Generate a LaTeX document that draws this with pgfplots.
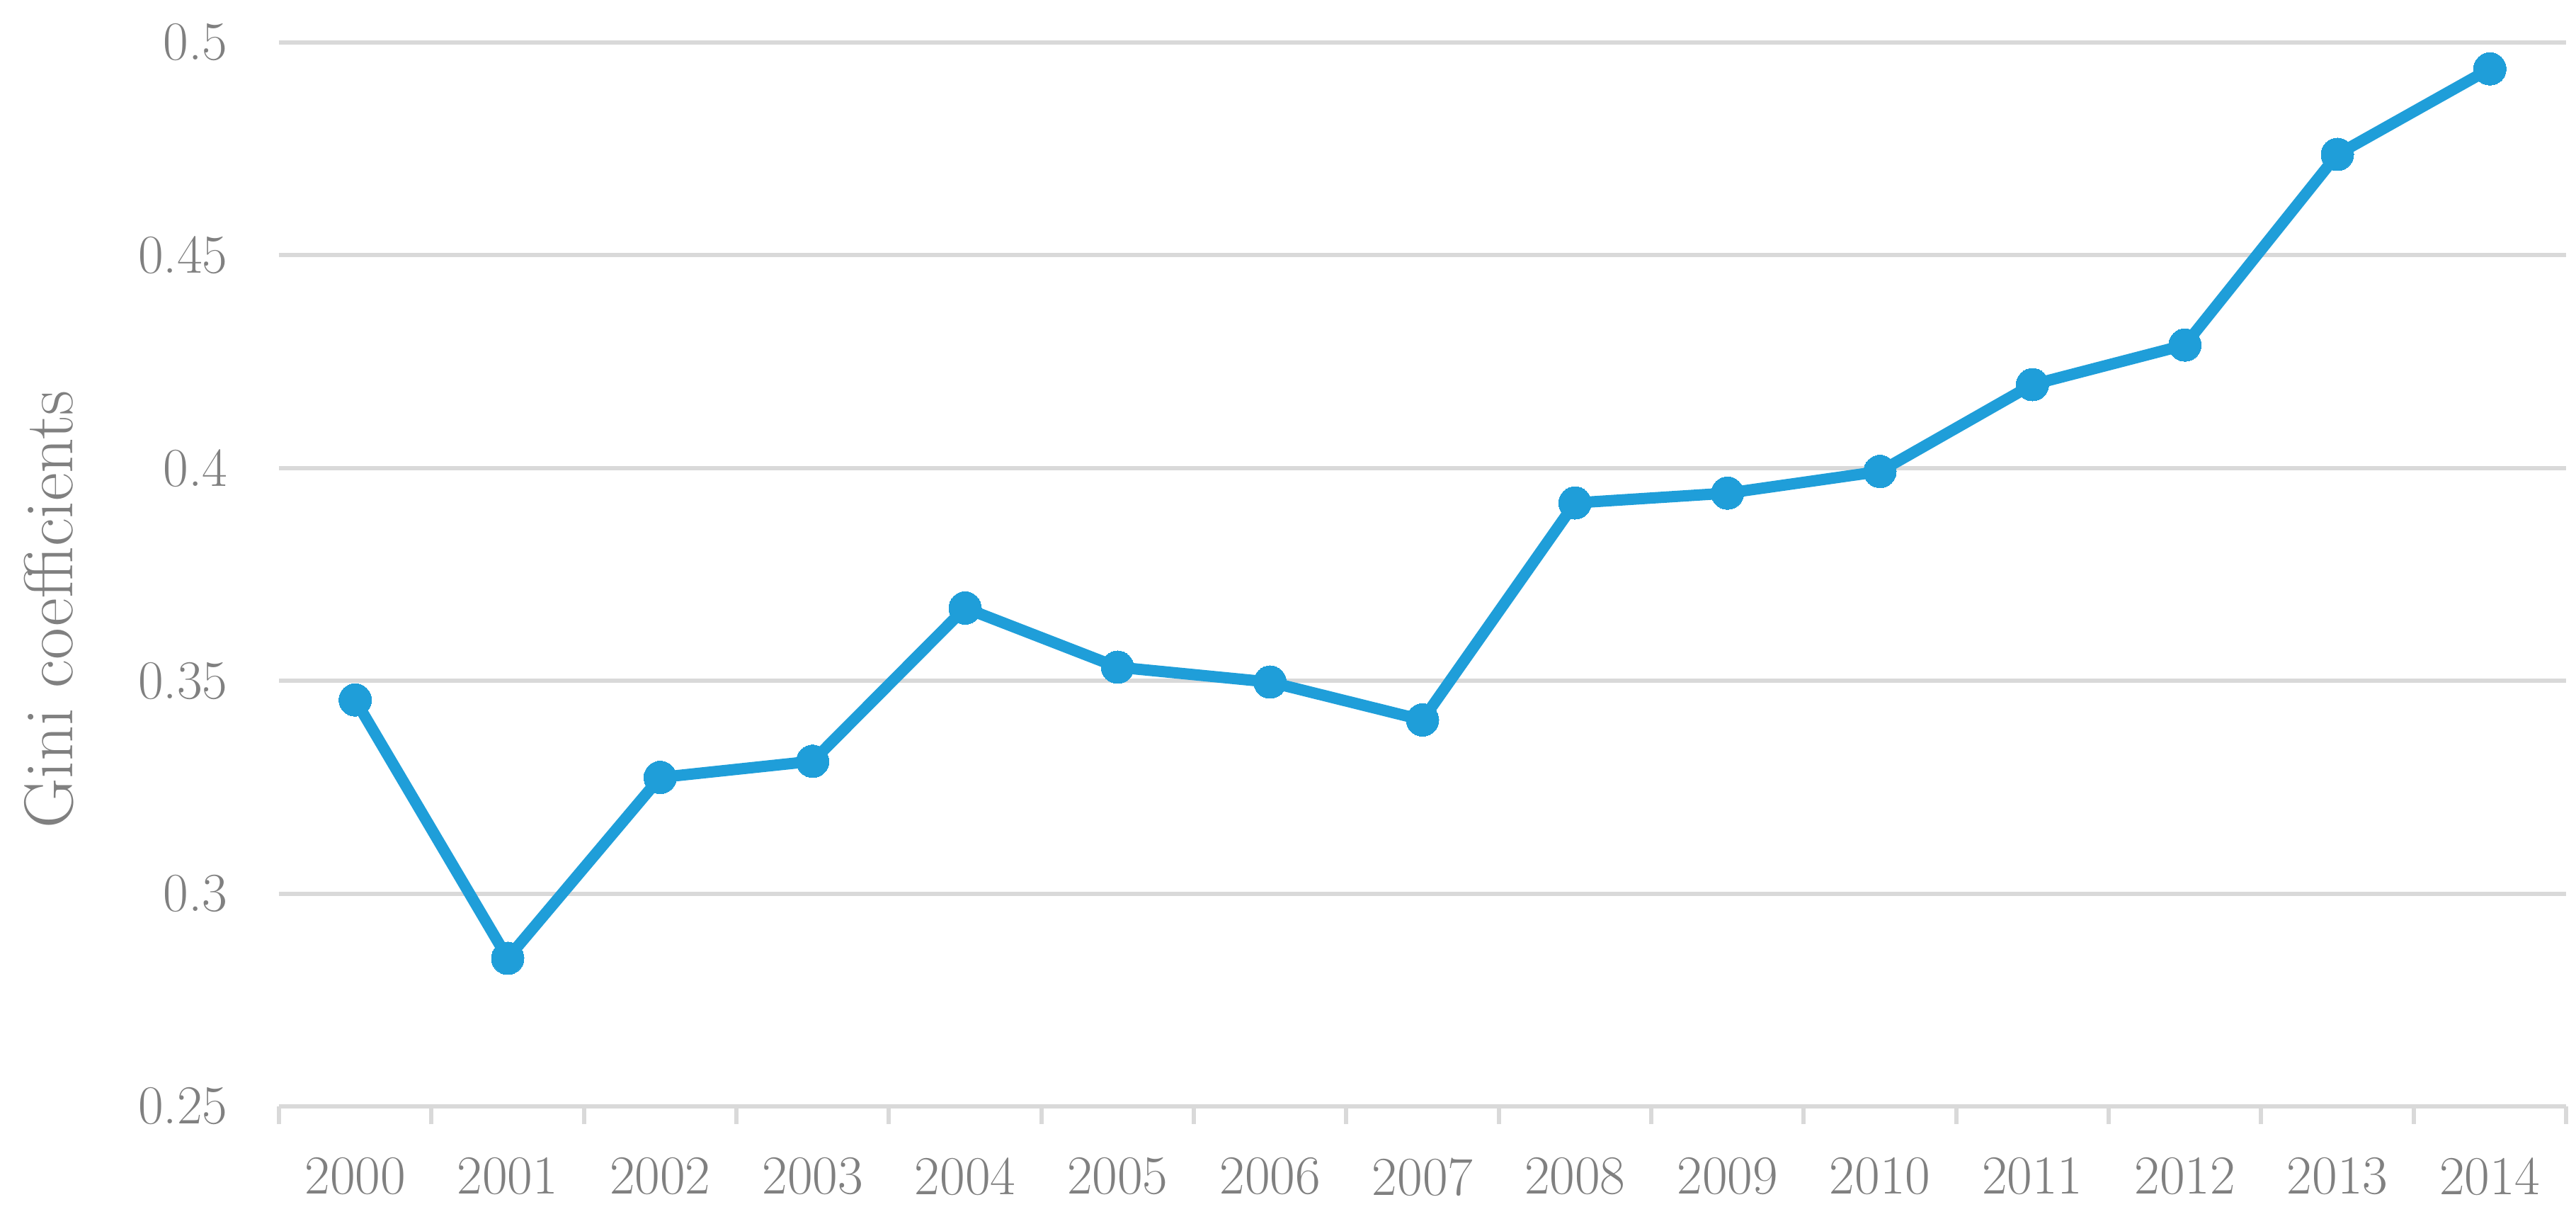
\documentclass[border=0pt]{standalone}
\usepackage{pgfplots}
\pgfplotsset{compat=1.18}
\definecolor{lineblue}{RGB}{31,158,217}
\definecolor{gridgray}{RGB}{217,217,217}
\definecolor{txtgray}{RGB}{128,128,128}
\begin{document}
\begin{tikzpicture}
\begin{axis}[
  scale only axis,
  width=646pt, height=300.4pt,
  xmin=-0.5, xmax=14.5,
  ymin=0.25, ymax=0.5,
  axis line style={draw=none},
  ytick={0.25,0.3,0.35,0.4,0.45,0.5},
  ymajorgrids,
  grid style={gridgray, line width=1.2pt},
  xtick={0,...,14},
  xticklabels={2000,2001,2002,2003,2004,2005,2006,2007,2008,2009,2010,2011,2012,2013,2014},
  minor xtick={-0.5,0.5,...,14.5},
  major tick length=0pt,
  minor tick length=5pt,
  tick align=outside,
  tick pos=left,
  minor tick style={gridgray, line width=1.2pt},
  ticklabel style={txtgray, font=\fontsize{15.5}{18}\selectfont},
  xticklabel style={yshift=-11pt},
  yticklabel style={xshift=-11pt,
    /pgf/number format/fixed, /pgf/number format/precision=2},
  /pgf/number format/assume math mode=true,
  clip=false,
]
\addplot[lineblue, line width=3.2pt, line join=round,
  mark=*, mark size=4.6pt, mark options={fill=lineblue, draw=lineblue, line width=0pt}]
  table {
x y
0  0.3455
1  0.2848
2  0.3273
3  0.3311
4  0.3671
5  0.3532
6  0.3497
7  0.3408
8  0.3918
9  0.3941
10 0.3992
11 0.4196
12 0.4289
13 0.4737
14 0.4938
};
\path (rel axis cs:0,0.467) ++(-65pt,0pt)
  node[rotate=90, text=txtgray, font=\fontsize{19.5}{22}\selectfont] {Gini coefficients};
\end{axis}
\path[use as bounding box] (-78.8pt,-31.8pt) rectangle (648.8pt,312.4pt);
\end{tikzpicture}
\end{document}
